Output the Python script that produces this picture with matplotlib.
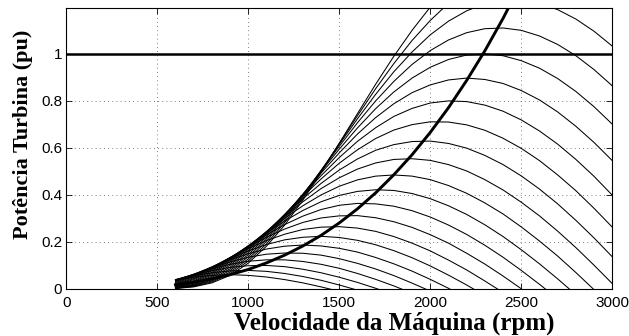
import numpy as np
import matplotlib
matplotlib.use("Agg")
import matplotlib.pyplot as plt

# rotor speed grid (rpm) where the curves were read
rpm = list(range(600, 3001, 100))

# turbine power (pu x 1000), one list per wind speed (m/s)
v5_5 = [38, 50, 58, 61, 58, 51, 40, 26, 9, -10]
v6_0 = [39, 56, 69, 77, 79, 75, 66, 53, 37, 17, -5]
v6_5 = [40, 60, 78, 92, 99, 100, 95, 84, 69, 50, 28, 3, -24]
v7_0 = [39, 62, 86, 105, 118, 124, 124, 117, 105, 88, 66, 41, 13, -18]
v7_5 = [37, 63, 91, 115, 135, 148, 153, 152, 144, 129, 109, 85, 57, 25, -9]
v8_0 = [34, 62, 93, 124, 150, 170, 182, 187, 183, 173, 157, 134, 107, 76, 41, 3, -38]
v8_5 = [31, 60, 94, 129, 162, 189, 209, 220, 224, 219, 207, 188, 163, 133, 98, 59, 17, -28]
v9_0 = [28, 56, 93, 133, 172, 206, 233, 253, 263, 265, 259, 245, 223, 195, 162, 123, 81, 34, -15]
v9_5 = [24, 53, 91, 134, 178, 220, 255, 283, 302, 311, 312, 303, 286, 262, 231, 195, 152, 106, 55, 1, -56]
v10_0 = [21, 48, 87, 133, 182, 230, 274, 310, 338, 356, 364, 362, 352, 333, 306, 272, 232, 186, 135, 79, 20, -42]
v10_5 = [18, 44, 82, 130, 184, 238, 289, 334, 371, 398, 415, 422, 419, 406, 384, 354, 317, 273, 223, 167, 107, 43, -24]
v11_0 = [16, 40, 77, 126, 183, 243, 301, 354, 400, 437, 464, 480, 485, 480, 465, 440, 407, 366, 319, 264, 204, 140, 70, -3]
v11_5 = [13, 35, 71, 121, 180, 244, 309, 371, 427, 473, 510, 536, 551, 554, 547, 529, 502, 465, 421, 369, 311, 246, 176, 101, 23]
v12_0 = [11, 31, 66, 115, 176, 244, 315, 384, 449, 506, 553, 590, 614, 627, 629, 619, 599, 568, 529, 481, 425, 362, 292, 217, 137]
v12_5 = [9, 27, 60, 108, 170, 241, 317, 394, 468, 535, 592, 640, 676, 699, 711, 710, 698, 675, 641, 598, 546, 485, 418, 343, 263]
v13_0 = [7, 24, 54, 101, 163, 236, 317, 400, 482, 559, 628, 686, 734, 768, 791, 800, 797, 782, 756, 719, 672, 616, 551, 479, 399]
v13_5 = [6, 20, 49, 93, 155, 230, 314, 403, 493, 579, 659, 729, 788, 835, 868, 889, 897, 891, 874, 844, 804, 753, 692, 623, 546]
v14_0 = [5, 17, 43, 86, 146, 222, 309, 403, 500, 595, 685, 767, 838, 897, 943, 976, 995, 1000, 992, 971, 939, 895, 840, 775, 701]
v14_5 = [4, 15, 38, 79, 137, 213, 302, 400, 504, 607, 707, 800, 883, 955, 1014, 1059, 1090, 1107, 1110, 1100, 1076, 1040, 992, 933, 864]
v15_0 = [3, 13, 34, 72, 128, 203, 293, 395, 504, 615, 724, 828, 924, 1008, 1081, 1139, 1183, 1213, 1228, 1228, 1215, 1188, 1148, 1096, 1033]
v15_5 = [3, 11, 30, 65, 119, 192, 283, 387, 501, 619, 737, 852, 959, 1057, 1142, 1215, 1273]
v16_0 = [2, 9, 26, 58, 110, 182, 272, 378, 495, 620, 746, 871, 990, 1100, 1199, 1286]

curves = [v5_5, v6_0, v6_5, v7_0, v7_5, v8_0, v8_5, v9_0, v9_5, v10_0, v10_5,
          v11_0, v11_5, v12_0, v12_5, v13_0, v13_5, v14_0, v14_5, v15_0, v15_5, v16_0]

# maximum power tracking curve (pu x 1000)
mppt_rpm = list(range(600, 2501, 100))
mppt = [18, 29, 43, 61, 83, 111, 144, 183, 228, 281, 341, 409, 486, 571, 666, 771, 887, 1013, 1151, 1301]

fig = plt.figure(figsize=(6.29, 3.36), dpi=100)
ax = fig.add_axes([0.1054, 0.1399, 0.868, 0.8363])

for c in curves:
    ax.plot(rpm[:len(c)], np.array(c) / 1000.0, color='black', lw=0.75)

ax.plot(mppt_rpm, np.array(mppt) / 1000.0, color='black', lw=2.1)
ax.axhline(1.0, color='black', lw=1.8)

ax.set_xlim(0, 3000)
ax.set_ylim(0, 1.195)
ax.set_xticks([0, 500, 1000, 1500, 2000, 2500, 3000])
ax.set_yticks([0, 0.2, 0.4, 0.6, 0.8, 1])
ax.set_yticklabels(['0', '0.2', '0.4', '0.6', '0.8', '1'])
ax.grid(True, color='0.35', linestyle=(0, (1, 4)), lw=0.6)
ax.tick_params(direction='in', length=4, width=0.6, top=True, right=True,
               labelsize=11)
ax.tick_params(axis='x', pad=5)
ax.tick_params(axis='y', pad=3)
for lab in ax.get_xticklabels() + ax.get_yticklabels():
    lab.set_family('Liberation Sans')
for s in ax.spines.values():
    s.set_linewidth(0.8)

ax.set_xlabel('Velocidade da Máquina (rpm)', family='Liberation Serif',
              fontweight='bold', fontsize=18)
ax.set_ylabel('Potência Turbina (pu)', family='Liberation Serif',
              fontweight='bold', fontsize=16)
ax.xaxis.set_label_coords(0.6, -0.08)
ax.yaxis.set_label_coords(-0.061, 0.552)

plt.savefig('out.png', dpi=100)
